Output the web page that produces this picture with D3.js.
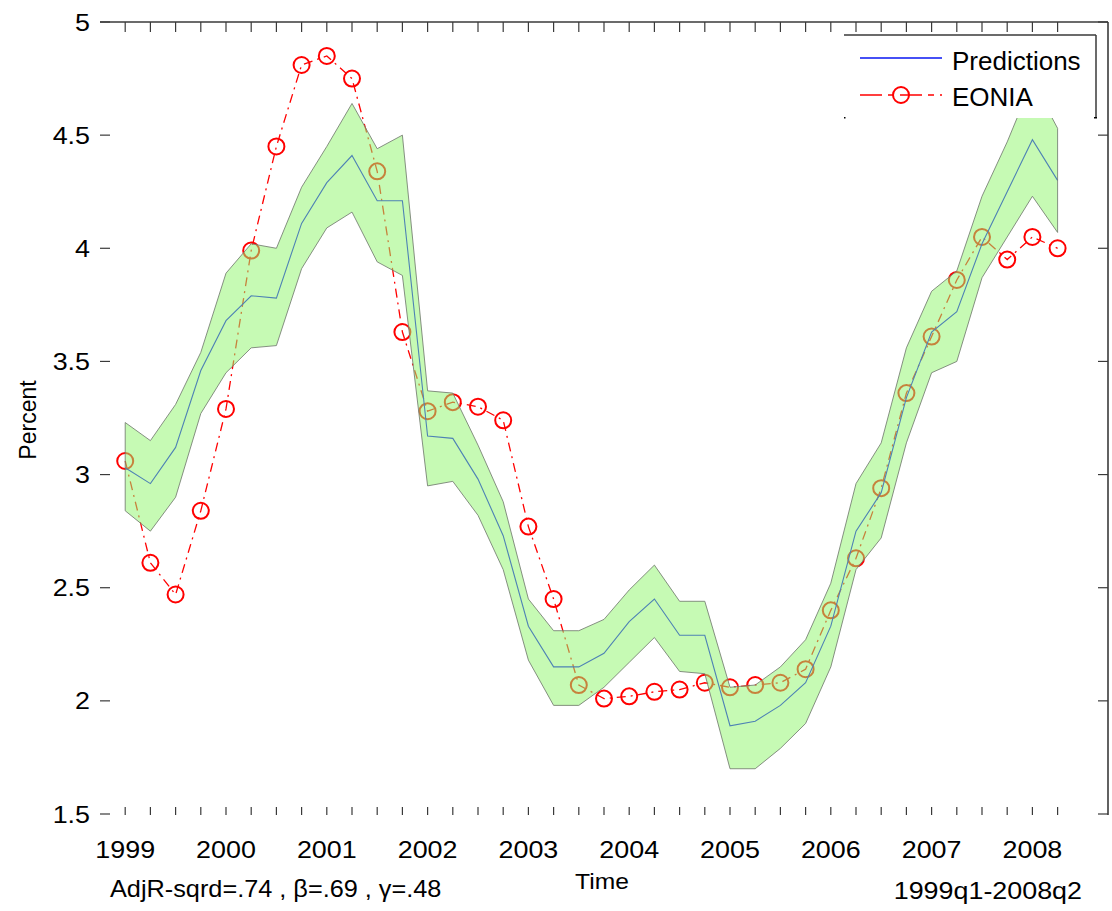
<!DOCTYPE html>
<html>
<head>
<meta charset="utf-8">
<script src="https://cdn.jsdelivr.net/npm/d3@7"></script>
<style>
html,body{margin:0;padding:0;background:#fff;}
svg{display:block;}
text{font-family:"Liberation Sans",Arial,Helvetica,sans-serif;fill:#000;}
</style>
</head>
<body>
<script>
// ---------- data ----------
const quarters = ["1999q1","1999q2","1999q3","1999q4","2000q1","2000q2","2000q3","2000q4",
  "2001q1","2001q2","2001q3","2001q4","2002q1","2002q2","2002q3","2002q4",
  "2003q1","2003q2","2003q3","2003q4","2004q1","2004q2","2004q3","2004q4",
  "2005q1","2005q2","2005q3","2005q4","2006q1","2006q2","2006q3","2006q4",
  "2007q1","2007q2","2007q3","2007q4","2008q1","2008q2"];
const eonia = [3.06,2.61,2.47,2.84,3.29,3.99,4.45,4.81,4.85,4.75,4.34,3.63,3.28,3.32,3.30,3.24,
  2.77,2.45,2.07,2.01,2.02,2.04,2.05,2.08,2.06,2.07,2.08,2.14,2.40,2.63,2.94,3.36,
  3.61,3.86,4.05,3.95,4.05,4.00];
const predictions = [3.03,2.96,3.12,3.46,3.68,3.79,3.78,4.11,4.29,4.41,4.21,4.21,3.17,3.16,2.98,2.73,
  2.33,2.15,2.15,2.21,2.35,2.45,2.29,2.29,1.89,1.91,1.98,2.08,2.33,2.75,2.92,3.34,
  3.63,3.72,4.02,4.25,4.48,4.30];
const upperBand = [3.23,3.15,3.31,3.54,3.89,4.02,4.00,4.27,4.45,4.64,4.44,4.50,3.37,3.36,3.13,2.88,
  2.45,2.31,2.31,2.36,2.49,2.60,2.44,2.44,2.06,2.07,2.15,2.27,2.52,2.96,3.14,3.56,
  3.81,3.90,4.23,4.47,4.74,4.53];
const lowerBand = [2.84,2.75,2.90,3.27,3.45,3.56,3.57,3.91,4.09,4.16,3.94,3.88,2.95,2.97,2.82,2.58,
  2.18,1.98,1.98,2.06,2.17,2.28,2.13,2.12,1.70,1.70,1.79,1.90,2.15,2.58,2.72,3.14,
  3.45,3.50,3.87,4.05,4.23,4.07];
const yearLabels = ["1999","2000","2001","2002","2003","2004","2005","2006","2007","2008"];
const yTicks = [1.5,2,2.5,3,3.5,4,4.5,5];
const yTickLabels = ["1.5","2","2.5","3","3.5","4","4.5","5"];
const legendLabels = ["Predictions","EONIA"];
const xTitle = "Time", yTitle = "Percent";
const noteLeft = "AdjR-sqrd=.74 , \u03B2=.69 , \u03B3=.48";
const noteRight = "1999q1-2008q2";

// ---------- layout ----------
const W = 1112, H = 911;
const L = 100, R = 1108, T = 22, B = 814;
const axisCol = "#3a3a3a";

const svg = d3.select("body").append("svg").attr("width", W).attr("height", H);

const x = d3.scaleLinear().domain([-1, 39]).range([L, R]);
const y = d3.scaleLinear().domain([1.5, 5]).range([B, T]);
const idx = d3.range(quarters.length);

function txt(px, py, s, size, anchor, sx) {
  const g = svg.append("g").attr("transform", `translate(${px},${py}) scale(${sx},1)`);
  return g.append("text").attr("text-anchor", anchor).attr("font-size", size).text(s);
}

// ---------- EONIA (drawn under the band) ----------
const lineE = d3.line().x(i => x(i)).y(i => y(eonia[i]));
svg.append("path").attr("d", lineE(idx)).attr("fill", "none")
  .attr("stroke", "#ff0000").attr("stroke-width", 1.3).attr("stroke-dasharray", "9,5,2,5");
svg.append("g").selectAll("circle").data(idx).join("circle")
  .attr("cx", i => x(i)).attr("cy", i => y(eonia[i])).attr("r", 8)
  .attr("fill", "none").attr("stroke", "#ff0000").attr("stroke-width", 2);

// ---------- Predictions line ----------
const lineP = d3.line().x(i => x(i)).y(i => y(predictions[i]));
svg.append("path").attr("d", lineP(idx)).attr("fill", "none")
  .attr("stroke", "#0000ff").attr("stroke-width", 1.1);

// ---------- confidence band (semi-transparent, on top) ----------
const area = d3.area().x(i => x(i)).y0(i => y(lowerBand[i])).y1(i => y(upperBand[i]));
svg.append("path").attr("d", area(idx))
  .attr("fill", "rgb(147,245,113)").attr("fill-opacity", 0.53)
  .attr("stroke", "#737d70").attr("stroke-width", 1).attr("stroke-opacity", 0.85);

// ---------- axes ----------
const ax = svg.append("g").attr("stroke", axisCol).attr("fill", "none");
ax.append("line").attr("x1", L).attr("x2", R).attr("y1", T).attr("y2", T).attr("stroke-width", 1.6);
ax.append("line").attr("x1", R).attr("x2", R).attr("y1", T).attr("y2", B + 1).attr("stroke-width", 1.6);
idx.forEach(i => {
  ax.append("line").attr("x1", x(i)).attr("x2", x(i)).attr("y1", T).attr("y2", T + 10).attr("stroke-width", 1.2);
  ax.append("line").attr("x1", x(i)).attr("x2", x(i)).attr("y1", B + 1).attr("y2", B - 7).attr("stroke-width", 1.2);
});
yTicks.forEach(v => {
  ax.append("line").attr("x1", L).attr("x2", L + 10).attr("y1", y(v)).attr("y2", y(v)).attr("stroke-width", 1.2);
  ax.append("line").attr("x1", R).attr("x2", R - 10).attr("y1", y(v)).attr("y2", y(v)).attr("stroke-width", 1.2);
});
yTicks.forEach((v, k) => txt(90, y(v) + 8.5, yTickLabels[k], 24, "end", 1.12));
yearLabels.forEach(s => txt(x((+s - 1999) * 4), 858, s, 24, "middle", 1.12));

// titles / notes
txt(602, 889, xTitle, 22, "middle", 1.12);
svg.append("text").attr("transform", "translate(36,420) rotate(-90)")
  .attr("text-anchor", "middle").attr("font-size", 23).text(yTitle);
txt(110, 897, noteLeft, 23, "start", 1.1);
txt(1082, 899, noteRight, 24, "end", 1.12);

// ---------- legend ----------
const lg = svg.append("g");
lg.append("rect").attr("x", 844).attr("y", 35).attr("width", 252).attr("height", 83).attr("fill", "#fff");
lg.append("line").attr("x1", 844).attr("x2", 1096).attr("y1", 35).attr("y2", 35).attr("stroke", axisCol).attr("stroke-width", 1.5);
lg.append("line").attr("x1", 1096).attr("x2", 1096).attr("y1", 35).attr("y2", 118).attr("stroke", axisCol).attr("stroke-width", 1.5);
lg.append("rect").attr("x", 844).attr("y", 117).attr("width", 1.5).attr("height", 1.5).attr("fill", "#000");
lg.append("rect").attr("x", 1094).attr("y", 117).attr("width", 3).attr("height", 1.5).attr("fill", "#000");
lg.append("line").attr("x1", 860).attr("x2", 942).attr("y1", 58).attr("y2", 58)
  .attr("stroke", "#4650f5").attr("stroke-width", 1.8);
lg.append("line").attr("x1", 860).attr("x2", 942).attr("y1", 95).attr("y2", 95)
  .attr("stroke", "#ff0000").attr("stroke-width", 1.3).attr("stroke-dasharray", "22,6,6,6,22,6,6,6");
lg.append("circle").attr("cx", 901).attr("cy", 95).attr("r", 8)
  .attr("fill", "none").attr("stroke", "#ff0000").attr("stroke-width", 2);
lg.append("g").attr("transform", "translate(952,70) scale(1.0,1)").append("text")
  .attr("font-size", 26).text(legendLabels[0]);
lg.append("g").attr("transform", "translate(952,106) scale(1.0,1)").append("text")
  .attr("font-size", 26).text(legendLabels[1]);
</script>
</body>
</html>
